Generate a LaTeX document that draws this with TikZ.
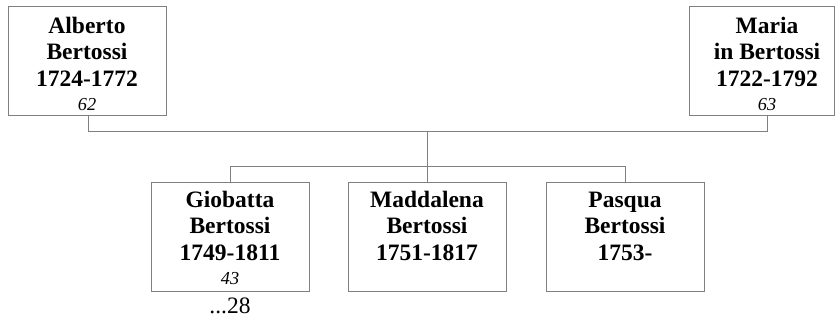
\documentclass[tikz,border=0pt]{standalone}
\usepackage{fontspec}
\setmainfont{Liberation Serif}
\definecolor{linegray}{RGB}{128,128,128}
\tikzset{
  person/.style={draw=linegray, line width=1pt, rectangle, inner sep=0pt,
                 minimum width=158pt, minimum height=109pt},
  names/.style={anchor=base, align=center, inner sep=0pt,
                font=\fontsize{23.5}{26.5}\selectfont\bfseries},
  agenum/.style={anchor=base, inner sep=0pt, font=\fontsize{18.3}{20}\selectfont\itshape},
  plain/.style={anchor=base, inner sep=0pt, font=\fontsize{23.5}{26}\selectfont},
  conn/.style={draw=linegray, line width=1pt}
}
\begin{document}
\begin{tikzpicture}[x=1pt, y=-1pt]
\useasboundingbox (0,0) rectangle (835,320);
% parent boxes
\node[person] (alb) at (87,61.5) {};
\node[person, minimum width=145pt] (mar) at (761.5,61.5) {};
% child boxes
\node[person] (gio) at (230,237.5) {};
\node[person] (mad) at (427,237.5) {};
\node[person] (pas) at (625,237.5) {};
% texts (base = baseline of the last line)
\node[names] (albt) at (87,86.5) {Alberto\\Bertossi\\1724-1772};
\node[agenum] (albn) at (87,110.5) {62};
\node[names] (mart) at (767,86.5) {Maria\\in Bertossi\\1722-1792};
\node[agenum] (marn) at (767,110.5) {63};
\node[names] (giot) at (230,260.5) {Giobatta\\Bertossi\\1749-1811};
\node[agenum] (gion) at (230,284.5) {43};
\node[plain] (giom) at (230,313.5) {...28};
\node[names] (madt) at (427,260.5) {Maddalena\\Bertossi\\1751-1817};
\node[names] (past) at (625,260.5) {Pasqua\\Bertossi\\1753-};
% connectors
\coordinate (ml) at (88,132);
\coordinate (mr) at (767,132);
\coordinate (mc) at (427,132);
\coordinate (bus) at (427,167);
\draw[conn] (alb.south -| ml) -- (ml) -- (mr) -- (mar.south -| mr);
\draw[conn] (mc) -- (bus);
\draw[conn] (gio.north) -- (gio.north |- bus) -- (pas.north |- bus) -- (pas.north);
\draw[conn] (bus) -- (mad.north);
\end{tikzpicture}
\end{document}
